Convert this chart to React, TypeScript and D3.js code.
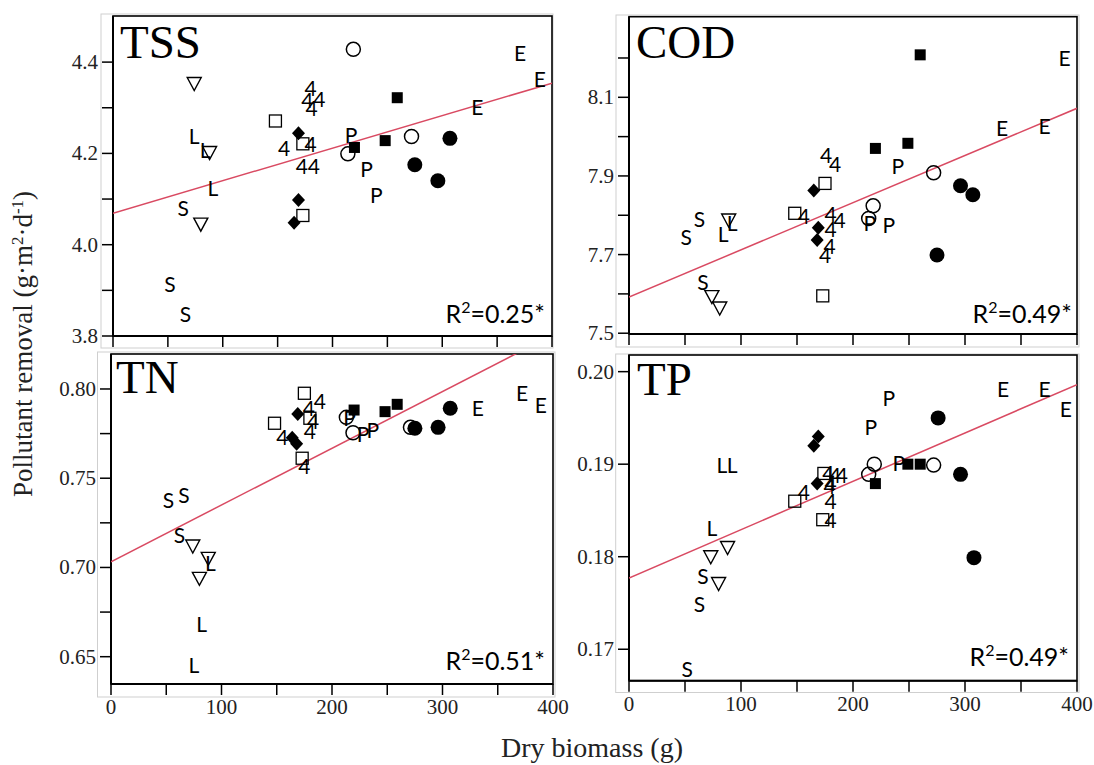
import React from "react";
import * as d3 from "d3";

// ---------------- data ----------------
// marker codes: fc = filled circle, oc = open circle, fs = filled square,
// os = open square, fd = filled diamond, tri = open down-triangle, letters = text markers
type Pt = [number, number, string];

const X_TICKS = [0, 50, 100, 150, 200, 250, 300, 350, 400];
const X_TICK_LABELS = [0, 100, 200, 300, 400];

const TSS_POINTS: Pt[] = [
  [219, 4.428, "oc"], [371, 4.42, "E"], [389, 4.361, "E"], [332, 4.301, "E"],
  [74, 4.353, "tri"], [180, 4.343, "4"], [177, 4.315, "4"], [188, 4.319, "4"],
  [181, 4.299, "4"], [259, 4.322, "fs"], [148, 4.271, "os"], [74, 4.237, "L"],
  [84, 4.207, "L"], [88, 4.202, "tri"], [91, 4.124, "L"], [169, 4.244, "fd"],
  [156, 4.21, "4"], [173, 4.221, "os"], [180, 4.22, "4"], [172, 4.171, "4"],
  [183, 4.171, "4"], [217, 4.24, "P"], [220, 4.213, "fs"], [214, 4.199, "oc"],
  [248, 4.228, "fs"], [272, 4.237, "oc"], [307, 4.233, "fc"], [275, 4.175, "fc"],
  [296, 4.14, "fc"], [231, 4.164, "P"], [240, 4.109, "P"], [169, 4.098, "fd"],
  [64, 4.08, "S"], [80, 4.045, "tri"], [173, 4.064, "os"], [165, 4.048, "fd"],
  [52, 3.912, "S"], [66, 3.848, "S"],
];

const COD_POINTS: Pt[] = [
  [260, 8.208, "fs"], [389, 8.199, "E"], [333, 8.021, "E"], [371, 8.025, "E"],
  [220, 7.97, "fs"], [249, 7.983, "fs"], [240, 7.924, "P"], [176, 7.951, "4"],
  [184, 7.928, "4"], [272, 7.908, "oc"], [175, 7.881, "os"], [165, 7.863, "fd"],
  [296, 7.875, "fc"], [307, 7.852, "fc"], [218, 7.824, "oc"], [148, 7.805, "os"],
  [156, 7.796, "4"], [180, 7.801, "4"], [188, 7.786, "4"], [180, 7.763, "4"],
  [169, 7.768, "fd"], [168, 7.737, "fd"], [179, 7.72, "4"], [175, 7.699, "4"],
  [214, 7.792, "oc"], [215, 7.78, "P"], [232, 7.775, "P"], [275, 7.699, "fc"],
  [63, 7.79, "S"], [51, 7.744, "S"], [84, 7.75, "L"], [89, 7.788, "tri"],
  [92, 7.778, "L"], [66, 7.629, "S"], [74, 7.593, "tri"], [81, 7.564, "tri"],
  [173, 7.595, "os"],
];

const TN_POINTS: Pt[] = [
  [372, 0.7976, "E"], [389, 0.791, "E"], [332, 0.7892, "E"], [307, 0.7892, "fc"],
  [296, 0.7785, "fc"], [275, 0.778, "fc"], [271, 0.7785, "oc"], [259, 0.7914, "fs"],
  [248, 0.7873, "fs"], [220, 0.7882, "fs"], [213, 0.7841, "oc"], [216, 0.7836, "P"],
  [219, 0.7755, "oc"], [228, 0.7748, "P"], [237, 0.7766, "P"], [175, 0.7976, "os"],
  [189, 0.7929, "4"], [179, 0.7892, "4"], [169, 0.786, "fd"], [180, 0.7836, "os"],
  [183, 0.7817, "4"], [180, 0.7761, "4"], [148, 0.7808, "os"], [155, 0.7729, "4"],
  [164, 0.7727, "fd"], [168, 0.7693, "fd"], [173, 0.7612, "os"], [175, 0.7565, "4"],
  [52, 0.7378, "S"], [66, 0.7406, "S"], [62, 0.7182, "S"], [74, 0.712, "tri"],
  [88, 0.7051, "tri"], [90, 0.7023, "L"], [80, 0.6939, "tri"], [82, 0.6678, "L"],
  [75, 0.6453, "L"],
];

const TP_POINTS: Pt[] = [
  [334, 0.1981, "E"], [371, 0.1981, "E"], [390, 0.1959, "E"], [232, 0.1971, "P"],
  [216, 0.194, "P"], [276, 0.195, "fc"], [169, 0.193, "fd"], [165, 0.192, "fd"],
  [83, 0.1899, "L"], [92, 0.1899, "L"], [219, 0.19, "oc"], [214, 0.1889, "oc"],
  [241, 0.1901, "P"], [249, 0.19, "fs"], [260, 0.19, "fs"], [272, 0.1899, "oc"],
  [296, 0.1889, "fc"], [220, 0.1879, "fs"], [174, 0.189, "os"], [178, 0.189, "4"],
  [184, 0.1888, "4"], [190, 0.1888, "4"], [180, 0.1879, "4"], [168, 0.1879, "fd"],
  [179, 0.1876, "4"], [156, 0.1869, "4"], [148, 0.186, "os"], [180, 0.186, "4"],
  [173, 0.184, "os"], [180, 0.1839, "4"], [308, 0.1799, "fc"], [74, 0.1831, "L"],
  [88, 0.181, "tri"], [73, 0.18, "tri"], [66, 0.1779, "S"], [80, 0.1771, "tri"],
  [63, 0.1748, "S"], [52, 0.1678, "S"],
];

const PANEL_NAMES = ["TSS", "COD", "TN", "TP"];
const R2_LABELS = ["0.25*", "0.49*", "0.51*", "0.49*"];
const FIT_AT_0 = [4.069, 7.592, 0.7032, 0.1777];
const FIT_AT_400 = [4.354, 8.072, 0.8304, 0.1986];

const TSS_Y_TICKS = [3.8, 4.0, 4.2, 4.4];
const TSS_Y_MINOR = [3.9, 4.1, 4.3];
const COD_Y_TICKS = [7.5, 7.7, 7.9, 8.1];
const COD_Y_MINOR = [7.6, 7.8, 8.0, 8.2];
const TN_Y_TICKS = [0.65, 0.7, 0.75, 0.8];
const TN_Y_MINOR = [0.675, 0.725, 0.775];
const TP_Y_TICKS = [0.17, 0.18, 0.19, 0.2];
const TP_Y_MINOR: number[] = [];

// ---------------- layout ----------------
const LAYOUT = [
  { l: 113, r: 552, t: 16, b: 336, dom: [3.8, 4.501], fmt: ".1f", ticks: TSS_Y_TICKS, minor: TSS_Y_MINOR, pts: TSS_POINTS, xlab: false, grey: [101, 14, 553, 348], title: [120, 58], r2: [545, 323] },
  { l: 629, r: 1077, t: 16.7, b: 334, dom: [7.498, 8.305], fmt: ".1f", ticks: COD_Y_TICKS, minor: COD_Y_MINOR, pts: COD_POINTS, xlab: false, grey: [616, 15, 1079, 347], title: [636, 58], r2: [1072, 323] },
  { l: 111, r: 553, t: 354, b: 684, dom: [0.6347, 0.8196], fmt: ".2f", ticks: TN_Y_TICKS, minor: TN_Y_MINOR, pts: TN_POINTS, xlab: true, grey: [97.5, 352, 555, 697], title: [116, 393], r2: [545, 670] },
  { l: 629, r: 1077, t: 355, b: 680.7, dom: [0.1666, 0.2018], fmt: ".2f", ticks: TP_Y_TICKS, minor: TP_Y_MINOR, pts: TP_POINTS, xlab: true, grey: [615.7, 354, 1079, 692.5], title: [637, 395], r2: [1069, 666] },
];

const TICK = 11;
const SERIF = "'Liberation Serif', 'Times New Roman', serif";
const SANS = "Lato, 'Open Sans', sans-serif";
const FIT_COLOR = "#d94a62";

function Marker({ m, cx, cy }: { m: string; cx: number; cy: number }) {
  switch (m) {
    case "fc":
      return <circle cx={cx} cy={cy} r={7.5} fill="#000" />;
    case "oc":
      return <circle cx={cx} cy={cy} r={7} fill="none" stroke="#000" strokeWidth={1.5} />;
    case "fs":
      return <rect x={cx - 5.5} y={cy - 5.5} width={11} height={11} fill="#000" />;
    case "os":
      return <rect x={cx - 6} y={cy - 6} width={12} height={12} fill="none" stroke="#000" strokeWidth={1.3} />;
    case "fd":
      return <path d={`M${cx},${cy - 7}L${cx + 6.5},${cy}L${cx},${cy + 7}L${cx - 6.5},${cy}Z`} fill="#000" />;
    case "tri":
      return <path d={`M${cx - 7},${cy - 6}L${cx + 7},${cy - 6}L${cx},${cy + 7}Z`} fill="none" stroke="#000" strokeWidth={1.4} />;
    default:
      return (
        <text x={cx} y={cy} dy="0.36em" textAnchor="middle" fontFamily={SANS} fontSize={21} fill="#000">
          {m}
        </text>
      );
  }
}

function Panel({ i }: { i: number }) {
  const p = LAYOUT[i];
  const x = d3.scaleLinear().domain([0, 400]).range([p.l, p.r]);
  const y = d3.scaleLinear().domain(p.dom).range([p.b, p.t]);
  const fmt = d3.format(p.fmt);
  const line = d3.line<[number, number]>().x((d) => x(d[0])).y((d) => y(d[1]));
  const fit: [number, number][] = [[0, FIT_AT_0[i]], [400, FIT_AT_400[i]]];
  const clipId = `clip${i}`;
  const [gx0, gy0, gx1, gy1] = p.grey;
  return (
    <g>
      <defs>
        <clipPath id={clipId}>
          <rect x={p.l} y={p.t} width={p.r - p.l} height={p.b - p.t} />
        </clipPath>
      </defs>
      <rect x={gx0} y={gy0} width={gx1 - gx0} height={gy1 - gy0} fill="none" stroke="#cfcfcf" strokeWidth={1} />
      <rect x={p.l} y={p.t} width={p.r - p.l} height={p.b - p.t} fill="#fff" stroke="#000" strokeWidth={1.6} />
      {[...p.ticks, ...p.minor].map((v) => (
        <line key={`yt${v}`} x1={p.l - TICK} x2={p.l} y1={y(v)} y2={y(v)} stroke="#000" strokeWidth={1.5} />
      ))}
      {p.ticks.map((v) => (
        <text key={`yl${v}`} x={p.l - TICK - 4} y={y(v)} dy="0.33em" textAnchor="end" fontFamily={SERIF} fontSize={21} fill="#222">
          {fmt(v)}
        </text>
      ))}
      {X_TICKS.map((v) => (
        <line key={`xt${v}`} x1={x(v)} x2={x(v)} y1={p.b} y2={p.b + TICK} stroke="#000" strokeWidth={1.5} />
      ))}
      {p.xlab &&
        X_TICK_LABELS.map((v) => (
          <text key={`xl${v}`} x={x(v)} y={p.b + TICK + 19} textAnchor="middle" fontFamily={SERIF} fontSize={21} fill="#222">
            {v}
          </text>
        ))}
      <line x1={p.l} x2={p.l} y1={p.t} y2={p.b} stroke="#000" strokeWidth={2} />
      <line x1={p.l} x2={p.r} y1={p.b} y2={p.b} stroke="#000" strokeWidth={2} />
      <path d={line(fit) || ""} clipPath={`url(#${clipId})`} fill="none" stroke={FIT_COLOR} strokeWidth={1.5} />
      {p.pts.map((d, k) => (
        <Marker key={k} m={d[2]} cx={x(d[0])} cy={y(d[1])} />
      ))}
      <text x={p.title[0]} y={p.title[1]} fontFamily={SERIF} fontSize={47} fill="#000">
        {PANEL_NAMES[i]}
      </text>
      <text x={p.r2[0]} y={p.r2[1]} textAnchor="end" fontFamily={SANS} fontSize={25} fill="#000">
        R<tspan dy={-10} fontSize={16}>2</tspan>
        <tspan dy={10}>={R2_LABELS[i]}</tspan>
      </text>
    </g>
  );
}

export default function App() {
  return (
    <svg width={1094} height={765} style={{ position: "absolute", left: 0, top: 0, background: "#fff" }}>
      <rect width={1094} height={765} fill="#fff" />
      {[0, 1, 2, 3].map((i) => (
        <Panel key={i} i={i} />
      ))}
      <text transform="translate(32,344) rotate(-90)" textAnchor="middle" fontFamily={SERIF} fontSize={27} fill="#222">
        Pollutant removal (g·m<tspan dy={-9} fontSize={17}>2</tspan>
        <tspan dy={9}>·d</tspan>
        <tspan dy={-9} fontSize={17}>-1</tspan>
        <tspan dy={9}>)</tspan>
      </text>
      <text x={592} y={757} textAnchor="middle" fontFamily={SERIF} fontSize={28} fill="#222">
        Dry biomass (g)
      </text>
    </svg>
  );
}
